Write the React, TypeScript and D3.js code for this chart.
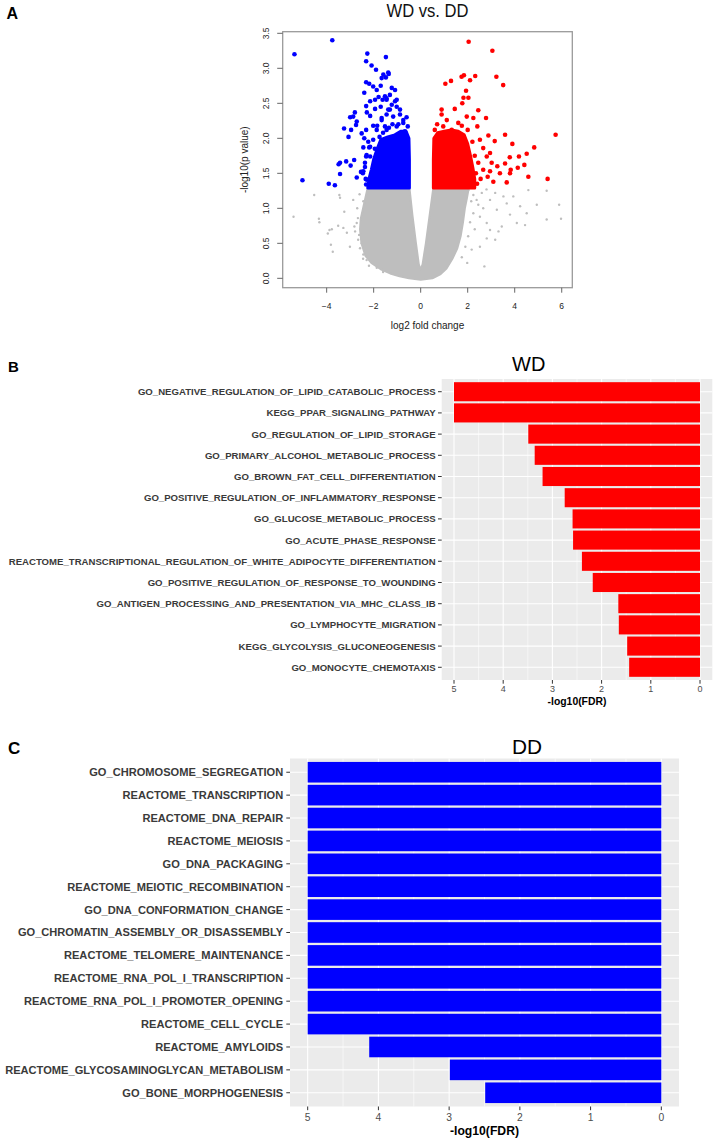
import React from 'react';
import * as d3 from 'd3';

// ---------- Panel A: volcano plot data ----------
const volcanoXTicks = [-4, -2, 0, 2, 4, 6];
const volcanoYTicks = [0, 0.5, 1, 1.5, 2, 2.5, 3, 3.5];

// outline of the dense, non-significant (gray) cloud, in data units
const grayCloud: [number, number][] = [
  [-2.25, 1.3], [-2.35, 1.15], [-2.45, 1.0], [-2.55, 0.85], [-2.58, 0.7], [-2.52, 0.5],
  [-2.35, 0.32], [-2.1, 0.22], [-1.7, 0.13], [-1.3, 0.07], [-0.9, 0.03], [-0.5, 0.0],
  [0, -0.02], [0.5, 0.0], [0.85, 0.06], [1.1, 0.14], [1.35, 0.28], [1.55, 0.42],
  [1.7, 0.6], [1.8, 0.8], [1.88, 1.0], [1.97, 1.15], [2.05, 1.3], [0.54, 1.3],
  [0.38, 0.9], [0.22, 0.5], [0.08, 0.2], [0, 0.12], [-0.08, 0.2], [-0.2, 0.5],
  [-0.35, 0.9], [-0.48, 1.3],
];
// outline of the dense down-regulated (blue) cloud
const blueCloud: [number, number][] = [
  [-2.25, 1.29], [-0.48, 1.29], [-0.48, 1.7], [-0.5, 2.0], [-0.62, 2.1], [-0.85, 2.1],
  [-1.1, 2.05], [-1.4, 2.02], [-1.7, 1.98], [-1.85, 1.85], [-2.0, 1.7], [-2.1, 1.55],
  [-2.2, 1.42],
];
// outline of the dense up-regulated (red) cloud
const redCloud: [number, number][] = [
  [0.54, 1.29], [2.3, 1.29], [2.3, 1.42], [2.22, 1.58], [2.12, 1.75], [2.0, 1.92],
  [1.85, 2.05], [1.6, 2.1], [1.3, 2.12], [1.0, 2.1], [0.72, 2.08], [0.56, 2.0],
  [0.54, 1.7],
];

const grayPoints: [number, number][] = [
  [-5.41, 0.88], [-4.53, 1.19], [-4.33, 0.85], [-4.31, 0.8], [-3.88, 0.69], [-3.78, 0.7],
  [-3.95, 0.64], [-3.82, 0.48], [-3.74, 0.38], [-3.46, 1.19], [-3.43, 1.15], [-3.25, 0.95],
  [-3.51, 0.75], [-3.29, 0.72], [-3.01, 0.45], [-3.14, 0.65], [-2.82, 0.74], [-2.79, 0.67],
  [-2.72, 0.79], [-2.87, 1.12], [-2.44, 1.1], [-2.67, 0.86], [-2.51, 0.5], [-2.44, 0.34],
  [-2.3, 0.26], [-1.87, 0.15], [-2.66, 0.55], [-2.58, 0.43], [-2.6, 1.2], [-2.7, 1.0],
  [-2.62, 0.62], [-2.45, 0.28], [-2.2, 0.18], [-1.6, 0.09],
  [2.03, 1.26], [2.24, 1.19], [2.38, 1.12], [2.45, 1.05], [2.24, 0.93], [2.52, 0.88],
  [2.66, 1.0], [2.81, 0.79], [2.95, 1.12], [3.24, 0.98], [3.17, 1.22], [3.52, 1.17],
  [3.66, 1.07], [3.8, 0.91], [3.94, 1.17], [4.09, 0.79], [4.23, 1.03], [4.44, 0.76],
  [4.58, 1.26], [4.51, 0.93], [4.94, 1.05], [5.36, 1.25], [5.36, 0.84], [5.89, 1.05],
  [5.97, 0.85], [3.31, 0.67], [3.17, 0.55], [2.81, 0.57], [2.52, 0.45], [2.71, 0.17],
  [2.17, 0.41], [1.98, 0.22], [2.95, 0.69], [3.45, 0.74], [2.15, 1.1], [2.1, 0.8],
  [2.02, 0.6], [1.9, 0.45], [2.3, 0.7], [2.6, 1.22], [2.8, 1.27], [1.75, 0.3],
];

const bluePoints: [number, number][] = [
  [-5.37, 3.2], [-3.76, 3.4], [-2.27, 3.21], [-2.32, 3.1], [-2.09, 3.04], [-1.9, 2.98],
  [-1.48, 3.16], [-1.36, 2.92], [-1.48, 2.87], [-1.66, 2.86], [-2.32, 2.8], [-2.19, 2.78],
  [-2.02, 2.74], [-2.4, 2.65], [-1.87, 2.69], [-1.7, 2.75], [-1.23, 2.72], [-2.15, 2.53],
  [-1.94, 2.55], [-1.79, 2.59], [-1.62, 2.55], [-1.45, 2.57], [-2.32, 2.46], [-1.94, 2.42],
  [-1.7, 2.45], [-1.38, 2.41], [-2.29, 2.37], [-2.15, 2.32], [-1.66, 2.29], [-2.8, 2.37],
  [-2.87, 2.31], [-3.0, 2.3], [-2.72, 2.24], [-3.26, 2.14], [-2.96, 2.12], [-2.75, 2.19],
  [-3.07, 2.02], [-2.51, 2.07], [-2.32, 2.12], [-2.02, 2.18], [-1.85, 2.18], [-2.4, 2.0],
  [-2.23, 1.95], [-2.44, 1.87], [-2.19, 1.87], [-2.32, 1.74], [-2.15, 1.74], [-3.43, 1.65],
  [-3.49, 1.63], [-3.17, 1.67], [-2.83, 1.69], [-2.98, 1.61], [-3.43, 1.49], [-2.54, 1.52],
  [-2.37, 1.59], [-5.03, 1.4], [-3.91, 1.35], [-3.65, 1.33], [-2.72, 1.44], [-2.34, 1.42],
  [-2.32, 1.34], [-2.46, 1.5], [-1.38, 2.94], [-1.59, 2.91], [-1.52, 2.6], [-1.45, 2.55],
  [-1.09, 2.53], [-1.02, 2.45], [-1.31, 2.41], [-0.88, 2.34], [-1.17, 2.31], [-0.74, 2.22],
  [-1.02, 2.17], [-0.67, 2.1], [-0.63, 2.03], [-0.81, 1.98], [-1.45, 2.12], [-1.02, 2.55],
  [-0.88, 2.41], [-0.74, 2.26], [-1.23, 2.48], [-1.45, 2.34], [-1.66, 2.26], [-1.52, 2.17],
  [-1.87, 2.12], [-2.02, 1.98], [-2.15, 1.88], [-2.3, 1.76], [-2.37, 1.65], [-2.44, 1.53],
  [-2.3, 1.41], [-2.15, 1.31], [-1.09, 2.69], [-1.31, 2.62], [-1.2, 2.2], [-1.35, 2.15],
  [-0.95, 2.2], [-0.6, 2.3], [-0.55, 2.17], [-1.6, 2.08], [-1.75, 2.02], [-1.95, 1.85],
];

const redPoints: [number, number][] = [
  [2.04, 3.38], [3.05, 3.25], [3.22, 2.88], [3.51, 2.76], [1.05, 2.78], [1.29, 2.82],
  [1.74, 2.88], [1.84, 2.9], [2.1, 2.83], [2.32, 2.89], [1.93, 2.68], [1.82, 2.58],
  [2.03, 2.58], [1.77, 2.5], [1.45, 2.42], [0.89, 2.41], [2.45, 2.4], [1.96, 2.31],
  [2.24, 2.29], [2.78, 2.29], [2.41, 2.17], [2.88, 2.04], [3.15, 1.96], [3.59, 2.05],
  [3.9, 1.92], [5.74, 2.05], [4.83, 1.87], [4.51, 1.78], [4.18, 1.74], [3.79, 1.73],
  [3.59, 1.64], [4.41, 1.62], [4.13, 1.58], [3.83, 1.55], [3.8, 1.5], [4.58, 1.45],
  [5.4, 1.42], [3.37, 1.5], [3.26, 1.6], [3.02, 1.65], [2.81, 1.74], [2.95, 1.79],
  [2.66, 1.86], [2.52, 1.98], [2.85, 1.45], [3.09, 1.38], [3.66, 1.37], [2.66, 1.55],
  [2.45, 1.65], [2.95, 1.53], [0.89, 2.34], [1.11, 2.26], [0.96, 2.17], [1.6, 2.22],
  [1.32, 2.12], [2.4, 1.35], [2.55, 1.42], [2.35, 1.5], [2.3, 1.75], [2.2, 1.95],
  [2.0, 2.12], [1.75, 2.18], [0.7, 2.2], [0.6, 2.12],
];

// ---------- Panel B: WD enrichment ----------
const wdTerms = [
  'GO_NEGATIVE_REGULATION_OF_LIPID_CATABOLIC_PROCESS',
  'KEGG_PPAR_SIGNALING_PATHWAY',
  'GO_REGULATION_OF_LIPID_STORAGE',
  'GO_PRIMARY_ALCOHOL_METABOLIC_PROCESS',
  'GO_BROWN_FAT_CELL_DIFFERENTIATION',
  'GO_POSITIVE_REGULATION_OF_INFLAMMATORY_RESPONSE',
  'GO_GLUCOSE_METABOLIC_PROCESS',
  'GO_ACUTE_PHASE_RESPONSE',
  'REACTOME_TRANSCRIPTIONAL_REGULATION_OF_WHITE_ADIPOCYTE_DIFFERENTIATION',
  'GO_POSITIVE_REGULATION_OF_RESPONSE_TO_WOUNDING',
  'GO_ANTIGEN_PROCESSING_AND_PRESENTATION_VIA_MHC_CLASS_IB',
  'GO_LYMPHOCYTE_MIGRATION',
  'KEGG_GLYCOLYSIS_GLUCONEOGENESIS',
  'GO_MONOCYTE_CHEMOTAXIS',
];
const wdValues = [5.0, 5.0, 3.49, 3.36, 3.2, 2.75, 2.59, 2.58, 2.4, 2.18, 1.66, 1.65, 1.48, 1.44];

// ---------- Panel C: DD enrichment ----------
const ddTerms = [
  'GO_CHROMOSOME_SEGREGATION',
  'REACTOME_TRANSCRIPTION',
  'REACTOME_DNA_REPAIR',
  'REACTOME_MEIOSIS',
  'GO_DNA_PACKAGING',
  'REACTOME_MEIOTIC_RECOMBINATION',
  'GO_DNA_CONFORMATION_CHANGE',
  'GO_CHROMATIN_ASSEMBLY_OR_DISASSEMBLY',
  'REACTOME_TELOMERE_MAINTENANCE',
  'REACTOME_RNA_POL_I_TRANSCRIPTION',
  'REACTOME_RNA_POL_I_PROMOTER_OPENING',
  'REACTOME_CELL_CYCLE',
  'REACTOME_AMYLOIDS',
  'REACTOME_GLYCOSAMINOGLYCAN_METABOLISM',
  'GO_BONE_MORPHOGENESIS',
];
const ddValues = [5, 5, 5, 5, 5, 5, 5, 5, 5, 5, 5, 5, 4.13, 2.99, 2.49];

const fdrTicks = [5, 4, 3, 2, 1, 0];
const fdrMinor = [4.5, 3.5, 2.5, 1.5, 0.5];

const FONT = "'Liberation Sans', Arial, Helvetica, sans-serif";

function Volcano() {
  const left = 282.7, right = 572.3, top = 31.7, bottom = 287.7;
  const x = d3.scaleLinear().domain([-5.87, 6.45]).range([left, right]);
  const y = d3.scaleLinear().domain([-0.134, 3.523]).range([bottom, top]);
  const poly = d3.line<[number, number]>().x(d => x(d[0])).y(d => y(d[1])).curve(d3.curveLinearClosed);
  const cx = (left + right) / 2;
  const cy = (top + bottom) / 2;
  return (
    <g fontFamily={FONT}>
      <text x={cx} y={17} textAnchor="middle" fontSize={19} textLength={82} lengthAdjust="spacingAndGlyphs" fill="#111">WD vs. DD</text>
      <path d={poly(grayCloud) || ''} fill="#BEBEBE" stroke="#BEBEBE" strokeWidth={2} strokeLinejoin="round" />
      {grayPoints.map((p, i) => (
        <circle key={'g' + i} cx={x(p[0])} cy={y(p[1])} r={1.2} fill="#BEBEBE" />
      ))}
      <path d={poly(blueCloud) || ''} fill="#0000FF" stroke="#0000FF" strokeWidth={3} strokeLinejoin="round" />
      {bluePoints.map((p, i) => (
        <circle key={'b' + i} cx={x(p[0])} cy={y(p[1])} r={2.3} fill="#0000FF" />
      ))}
      <path d={poly(redCloud) || ''} fill="#FF0000" stroke="#FF0000" strokeWidth={3} strokeLinejoin="round" />
      {redPoints.map((p, i) => (
        <circle key={'r' + i} cx={x(p[0])} cy={y(p[1])} r={2.3} fill="#FF0000" />
      ))}
      <rect x={left} y={top} width={right - left} height={bottom - top} fill="none" stroke="#9A9A9A" strokeWidth={1.3} />
      {volcanoYTicks.map(t => (
        <g key={'yt' + t}>
          <line x1={left - 5.5} x2={left} y1={y(t)} y2={y(t)} stroke="#666" strokeWidth={1} />
          <text transform={`translate(${left - 13.5},${y(t)}) rotate(-90)`} textAnchor="middle" fontSize={8.5} fill="#222">{t.toFixed(1)}</text>
        </g>
      ))}
      {volcanoXTicks.map(t => (
        <g key={'xt' + t}>
          <line x1={x(t)} x2={x(t)} y1={bottom} y2={bottom + 5} stroke="#666" strokeWidth={1} />
          <text x={x(t)} y={308.5} textAnchor="middle" fontSize={8.5} fill="#222">{t < 0 ? '\u2212' + Math.abs(t) : String(t)}</text>
        </g>
      ))}
      <text transform={`translate(247.5,${cy}) rotate(-90)`} textAnchor="middle" fontSize={10} fill="#222">-log10(p value)</text>
      <text x={cx} y={329} textAnchor="middle" fontSize={10} fill="#222">log2 fold change</text>
    </g>
  );
}

type BarProps = {
  terms: string[]; values: number[]; color: string;
  x0: number; x1: number; y0: number; y1: number;
  labelSize: number; tickSize: number; axisTitleSize: number;
  tickBaseline: number; axisTitleBaseline: number;
  title: string; titleX: number; titleY: number; titleSize: number;
  labelGap: number;
};

function BarPanel(p: BarProps) {
  const n = p.terms.length;
  const xs = d3.scaleLinear().domain([5.25, -0.25]).range([p.x0, p.x1]);
  const ys = d3.scaleLinear().domain([0.4, n + 0.6]).range([p.y0, p.y1]);
  return (
    <g fontFamily={FONT}>
      <text x={p.titleX} y={p.titleY} textAnchor="middle" fontSize={p.titleSize} fill="#000">{p.title}</text>
      <rect x={p.x0} y={p.y0} width={p.x1 - p.x0} height={p.y1 - p.y0} fill="#EBEBEB" />
      {fdrMinor.map(t => (
        <line key={'mn' + t} x1={xs(t)} x2={xs(t)} y1={p.y0} y2={p.y1} stroke="#fff" strokeWidth={0.55} />
      ))}
      {fdrTicks.map(t => (
        <line key={'mj' + t} x1={xs(t)} x2={xs(t)} y1={p.y0} y2={p.y1} stroke="#fff" strokeWidth={1.1} />
      ))}
      {p.terms.map((t, i) => (
        <line key={'h' + i} x1={p.x0} x2={p.x1} y1={ys(i + 1)} y2={ys(i + 1)} stroke="#fff" strokeWidth={1.1} />
      ))}
      {p.values.map((v, i) => (
        <rect key={'bar' + i} x={xs(v)} width={xs(0) - xs(v)} y={ys(i + 1 - 0.45)} height={ys(i + 1 + 0.45) - ys(i + 1 - 0.45)} fill={p.color} />
      ))}
      {p.terms.map((t, i) => (
        <g key={'l' + i}>
          <line x1={p.x0 - 3.7} x2={p.x0} y1={ys(i + 1)} y2={ys(i + 1)} stroke="#333" strokeWidth={1} />
          <text x={p.x0 - p.labelGap} y={ys(i + 1)} dy="0.36em" textAnchor="end" fontSize={p.labelSize} fontWeight="bold" fill="#3a3a3a">{t}</text>
        </g>
      ))}
      {fdrTicks.map(t => (
        <g key={'xt' + t}>
          <line x1={xs(t)} x2={xs(t)} y1={p.y1} y2={p.y1 + 3.7} stroke="#333" strokeWidth={1} />
          <text x={xs(t)} y={p.tickBaseline} textAnchor="middle" fontSize={p.tickSize} fill="#4D4D4D">{t}</text>
        </g>
      ))}
      <text x={(p.x0 + p.x1) / 2} y={p.axisTitleBaseline} textAnchor="middle" fontSize={p.axisTitleSize} fontWeight="bold" fill="#000">-log10(FDR)</text>
    </g>
  );
}

export default function App() {
  return (
    <svg width={713} height={1140} style={{ position: 'absolute', left: 0, top: 0, background: '#fff' }}>
      <rect x={0} y={0} width={713} height={1140} fill="#fff" />
      <text x={6.5} y={18.5} fontFamily={FONT} fontWeight="bold" fontSize={16}>A</text>
      <text x={8} y={372} fontFamily={FONT} fontWeight="bold" fontSize={15}>B</text>
      <text x={8} y={754} fontFamily={FONT} fontWeight="bold" fontSize={17}>C</text>
      <Volcano />
      <BarPanel
        terms={wdTerms} values={wdValues} color="#FF0000"
        x0={441.7} x1={712.3} y0={379} y1={680}
        labelSize={9.6} tickSize={9} axisTitleSize={10.4}
        tickBaseline={691.5} axisTitleBaseline={705}
        title="WD" titleX={528.7} titleY={370.7} titleSize={20}
        labelGap={6}
      />
      <BarPanel
        terms={ddTerms} values={ddValues} color="#0000FF"
        x0={290} x1={679} y0={758.5} y1={1106.5}
        labelSize={11.1} tickSize={10.3} axisTitleSize={12.2}
        tickBaseline={1120.7} axisTitleBaseline={1135}
        title="DD" titleX={527} titleY={754} titleSize={20.8}
        labelGap={6.8}
      />
    </svg>
  );
}
